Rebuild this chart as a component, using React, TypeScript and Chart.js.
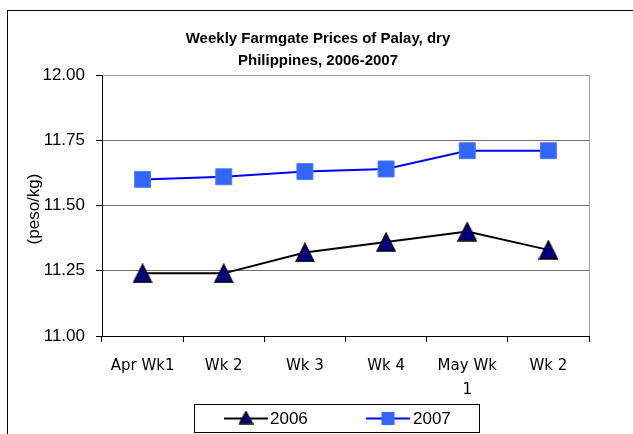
import React, { useEffect, useRef } from 'react';
import { Chart, registerables } from 'chart.js';

Chart.register(...registerables);

const CATEGORIES: (string | string[])[] = ['Apr Wk1', 'Wk 2', 'Wk 3', 'Wk 4', ['May Wk', '1'], 'Wk 2'];
const SERIES_NAMES = ['2006', '2007'];
const SERIES_2006 = [11.24, 11.24, 11.32, 11.36, 11.4, 11.33];
const SERIES_2007 = [11.6, 11.61, 11.63, 11.64, 11.71, 11.71];
const TITLE_LINES = ['Weekly Farmgate Prices of Palay, dry', 'Philippines, 2006-2007'];
const Y_TITLE = '(peso/kg)';
const Y_MIN = 11;
const Y_MAX = 12;
const Y_STEP = 0.25;

const W = 633;
const H = 434;
const ARIAL = '"Liberation Sans", Arial, sans-serif';
const GOTHIC = '"DejaVu Sans", sans-serif';

function makeTriangle(w: number, h: number): HTMLCanvasElement {
  const c = document.createElement('canvas');
  c.width = w + 2;
  c.height = h + 2;
  const g = c.getContext('2d')!;
  g.beginPath();
  g.moveTo(c.width / 2, 1);
  g.lineTo(c.width - 1, h + 1);
  g.lineTo(1, h + 1);
  g.closePath();
  g.fillStyle = '#000080';
  g.fill();
  g.lineWidth = 1.3;
  g.strokeStyle = '#000';
  g.lineJoin = 'miter';
  g.stroke();
  return c;
}

export default function App() {
  const ref = useRef<HTMLCanvasElement | null>(null);

  useEffect(() => {
    const canvas = ref.current;
    if (!canvas) return;
    const tri = makeTriangle(18, 18);
    const triSmall = makeTriangle(13, 12);

    const decor = {
      id: 'decor',
      beforeDraw(chart: any) {
        const ctx = chart.ctx;
        ctx.save();
        ctx.fillStyle = '#fff';
        ctx.fillRect(0, 0, chart.width, chart.height);
        ctx.strokeStyle = '#000';
        ctx.lineWidth = 1;
        ctx.strokeRect(7.5, 10.5, 700, 600);
        ctx.restore();
      },
      beforeDatasetsDraw(chart: any) {
        const ctx = chart.ctx;
        const a = chart.chartArea;
        ctx.save();
        ctx.strokeStyle = '#a0a0a0';
        ctx.lineWidth = 1;
        ctx.beginPath();
        ctx.moveTo(a.right + 0.5, a.top);
        ctx.lineTo(a.right + 0.5, a.bottom);
        ctx.stroke();
        ctx.restore();
      },
      afterDraw(chart: any) {
        const ctx = chart.ctx;
        ctx.save();
        // Title
        ctx.fillStyle = '#000';
        ctx.font = `bold 15px ${ARIAL}`;
        ctx.textAlign = 'center';
        ctx.textBaseline = 'alphabetic';
        ctx.fillText(TITLE_LINES[0], 318, 43);
        ctx.fillText(TITLE_LINES[1], 318, 65);
        // Y title
        ctx.save();
        ctx.translate(34, 209);
        ctx.rotate(-Math.PI / 2);
        ctx.font = `17px ${ARIAL}`;
        ctx.textBaseline = 'middle';
        ctx.textAlign = 'center';
        ctx.fillText(Y_TITLE, 0, 0);
        ctx.restore();
        // Legend
        const bx = 194, by = 404, bw = 285, bh = 28;
        ctx.strokeStyle = '#000';
        ctx.lineWidth = 1;
        ctx.strokeRect(bx + 0.5, by + 0.5, bw, bh);
        const cy = by + bh / 2 + 0.5;
        ctx.font = `17px ${ARIAL}`;
        ctx.textAlign = 'left';
        ctx.textBaseline = 'middle';
        // item 1
        ctx.strokeStyle = '#000';
        ctx.lineWidth = 2;
        ctx.beginPath();
        ctx.moveTo(224, cy);
        ctx.lineTo(268, cy);
        ctx.stroke();
        ctx.drawImage(triSmall, 246 - triSmall.width / 2, cy - triSmall.height / 2 - 1);
        ctx.fillStyle = '#000';
        ctx.fillText(SERIES_NAMES[0], 270, cy + 1);
        // item 2
        ctx.strokeStyle = '#0000FF';
        ctx.beginPath();
        ctx.moveTo(366, cy);
        ctx.lineTo(410, cy);
        ctx.stroke();
        ctx.fillStyle = '#3366FF';
        ctx.fillRect(388 - 6.5, cy - 6.5, 13, 13);
        ctx.fillStyle = '#000';
        ctx.fillText(SERIES_NAMES[1], 413, cy + 1);
        ctx.restore();
      },
    };

    const chart = new Chart(canvas, {
      type: 'line',
      data: {
        labels: CATEGORIES,
        datasets: [
          {
            label: SERIES_NAMES[0],
            data: SERIES_2006,
            borderColor: '#000',
            borderWidth: 2,
            pointStyle: tri as any,
            pointRadius: 9,
            pointHoverRadius: 9,
            tension: 0,
          },
          {
            label: SERIES_NAMES[1],
            data: SERIES_2007,
            borderColor: '#0000FF',
            borderWidth: 2,
            pointStyle: 'rect',
            pointRadius: 11.3,
            pointHoverRadius: 11.3,
            pointBackgroundColor: '#3366FF',
            pointBorderColor: '#4d7bff',
            pointBorderWidth: 1,
            tension: 0,
          },
        ],
      },
      options: {
        responsive: false,
        animation: false,
        events: [],
        layout: { padding: { top: 75, right: 44, bottom: 0, left: 0 } },
        plugins: {
          legend: { display: false },
          title: { display: false },
          tooltip: { enabled: false },
        },
        scales: {
          x: {
            type: 'category',
            offset: true,
            grid: {
              offset: true,
              drawOnChartArea: false,
              drawTicks: true,
              tickLength: 6,
              tickColor: '#000',
              color: '#000',
            },
            border: { color: '#000', width: 1 },
            ticks: {
              color: '#000',
              font: { family: GOTHIC, size: 15, lineHeight: 1.6 },
              padding: 12,
              maxRotation: 0,
              autoSkip: false,
            },
            afterFit: (s: any) => {
              s.height = 98;
            },
          },
          y: {
            min: Y_MIN,
            max: Y_MAX,
            grid: {
              color: (c: any) => (c.tick && c.tick.value === Y_MAX ? '#a0a0a0' : '#707070'),
              tickColor: '#000',
              tickLength: 6,
              drawTicks: true,
            },
            border: { color: '#000', width: 1 },
            ticks: {
              stepSize: Y_STEP,
              color: '#000',
              font: { family: ARIAL, size: 17 },
              padding: 11,
              callback: (v: any) => Number(v).toFixed(2),
            },
            afterFit: (s: any) => {
              s.width = 102;
            },
          },
        },
      },
      plugins: [decor],
    });

    return () => chart.destroy();
  }, []);

  return (
    <div style={{ position: 'fixed', left: 0, top: 0, width: W, height: H, background: '#fff' }}>
      <canvas ref={ref} width={W} height={H} style={{ display: 'block' }} />
    </div>
  );
}
